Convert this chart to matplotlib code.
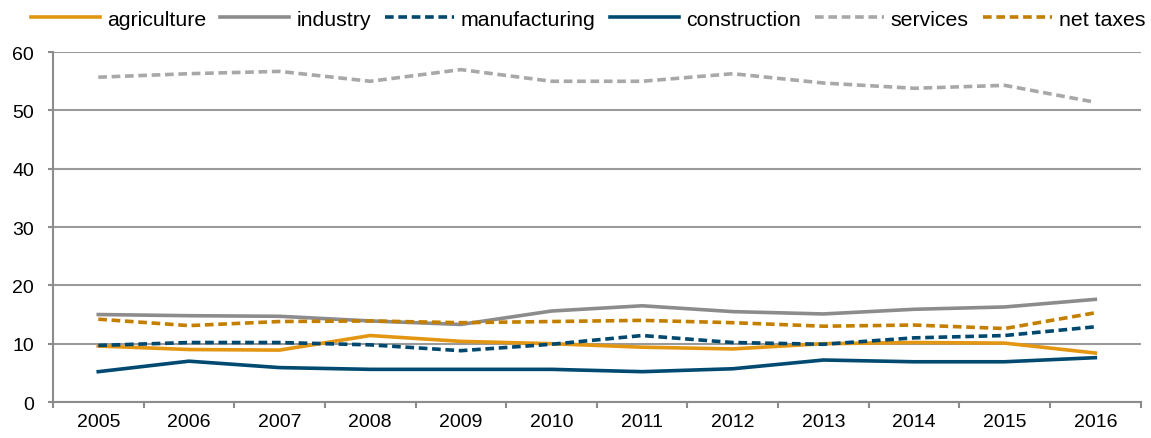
import matplotlib
matplotlib.use("Agg")
from matplotlib import pyplot as plt
from matplotlib.ticker import FixedLocator

plt.rcParams['font.family'] = ['Liberation Sans', 'DejaVu Sans']

years = ["2005", "2006", "2007", "2008", "2009", "2010",
         "2011", "2012", "2013", "2014", "2015", "2016"]
agriculture = [9.6, 9.0, 8.9, 11.4, 10.4, 10.0, 9.4, 9.1, 10.0, 10.2, 10.1, 8.4]
industry = [15.0, 14.8, 14.7, 13.9, 13.3, 15.6, 16.5, 15.5, 15.1, 15.9, 16.3, 17.6]
manufacturing = [9.7, 10.2, 10.2, 9.8, 8.8, 9.9, 11.4, 10.2, 9.9, 11.0, 11.4, 12.9]
construction = [5.2, 7.0, 5.9, 5.6, 5.6, 5.6, 5.2, 5.7, 7.2, 6.9, 6.9, 7.6]
services = [55.7, 56.3, 56.7, 55.0, 57.0, 55.0, 55.0, 56.3, 54.7, 53.8, 54.3, 51.4]
net_taxes = [14.2, 13.1, 13.8, 13.9, 13.6, 13.8, 14.0, 13.6, 13.0, 13.2, 12.6, 15.3]

fig = plt.figure(figsize=(11.51, 4.39), dpi=100)
ax = fig.add_axes([0.046, 0.082, 0.945, 0.797])

x = list(range(len(years)))
lw = 2.6
dash = (0, (2.4, 1.3))
ax.plot(x, agriculture, color="#E39612", lw=lw, label="agriculture")
ax.plot(x, industry, color="#8C8C8E", lw=lw, label="industry")
ax.plot(x, manufacturing, color="#00486E", lw=lw, ls=dash, label="manufacturing")
ax.plot(x, construction, color="#004A72", lw=lw, label="construction")
ax.plot(x, services, color="#A8A8AA", lw=lw, ls=dash, label="services")
ax.plot(x, net_taxes, color="#C47E00", lw=lw, ls=dash, label="net taxes")

ax.set_xlim(-0.5, len(years) - 0.5)
ax.set_ylim(0, 60)
ax.set_yticks(range(0, 61, 10))
ax.set_xticks(x)
ax.set_xticklabels(years)
ax.xaxis.set_minor_locator(FixedLocator([i - 0.5 for i in range(len(years) + 1)]))
ax.tick_params(axis="x", which="major", length=0, labelsize=14, pad=8, colors="black")
ax.tick_params(axis="x", which="minor", length=4, width=1.5, color="#8C8C8C")
ax.tick_params(axis="y", length=3.6, width=1.5, color="#8C8C8C", labelsize=14, pad=10)

ax.grid(axis="y", color="#9A9A9A", lw=1.5)
ax.set_axisbelow(True)
for s in ["top", "right"]:
    ax.spines[s].set_visible(False)
for s in ["left", "bottom"]:
    ax.spines[s].set_color("#8C8C8C")
    ax.spines[s].set_linewidth(1.5)

fig.legend(loc="center", bbox_to_anchor=(0.511, 0.954), ncol=6, frameon=False,
           fontsize=15.3, handlelength=3.25, columnspacing=0.66, handletextpad=0.33)

fig.savefig("out.png", dpi=100)
